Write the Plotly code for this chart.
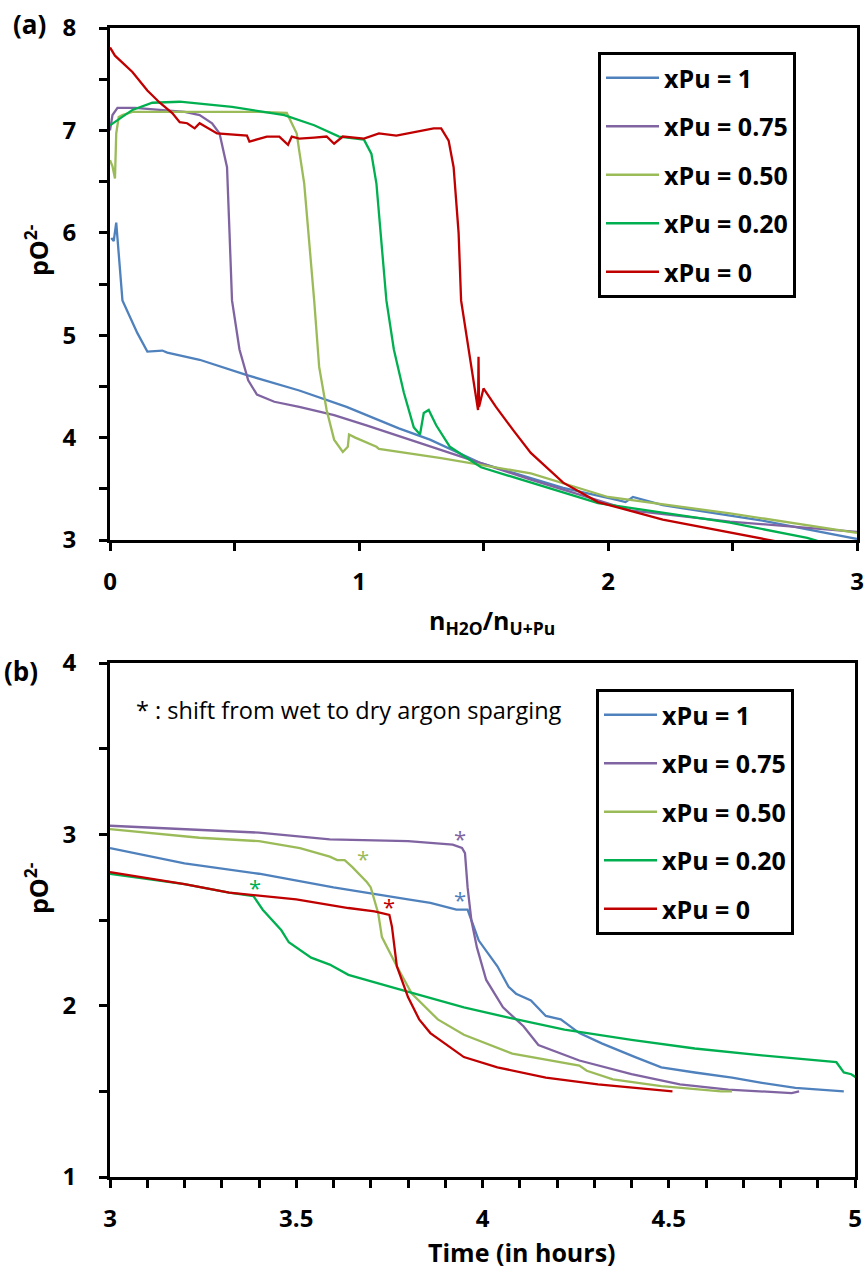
import plotly.graph_objects as go

W, H = 866, 1272

# ---------------- Panel (a) data ----------------
series_names = ["xPu = 1", "xPu = 0.75", "xPu = 0.50", "xPu = 0.20", "xPu = 0"]
series_colors = ["#4F81BD", "#8064A2", "#9BBB59", "#00B050", "#C00000"]

a_x_pu100 = [0.005, 0.015, 0.025, 0.035, 0.05, 0.11, 0.15, 0.21, 0.23, 0.36, 0.55, 0.76, 0.95, 1.16, 1.285,
             1.49, 1.82, 2.04, 2.07, 2.10, 2.22, 2.62, 3.0]
a_y_pu100 = [5.95, 5.92, 6.10, 5.80, 5.34, 5.02, 4.84, 4.85, 4.83, 4.76, 4.61, 4.46, 4.30, 4.09, 3.98,
             3.75, 3.51, 3.39, 3.37, 3.42, 3.34, 3.19, 3.01]

a_x_pu075 = [0.0, 0.01, 0.03, 0.10, 0.20, 0.30, 0.36, 0.41, 0.44, 0.47, 0.48, 0.49, 0.52, 0.555, 0.59,
             0.66, 0.76, 0.90, 1.03, 1.33, 1.69, 2.09, 2.49, 3.0]
a_y_pu075 = [7.00, 7.15, 7.22, 7.22, 7.20, 7.18, 7.15, 7.07, 6.97, 6.64, 6.00, 5.34, 4.86, 4.56, 4.42,
             4.35, 4.30, 4.22, 4.12, 3.88, 3.59, 3.29, 3.18, 3.08]

a_x_pu050 = [0.0, 0.01, 0.02, 0.025, 0.035, 0.05, 0.09, 0.20, 0.40, 0.60, 0.71, 0.75, 0.76, 0.78, 0.82,
             0.84, 0.87, 0.90, 0.935, 0.955, 0.96, 0.985, 1.07, 1.08, 1.33, 1.69, 2.0, 2.49, 3.0]
a_y_pu050 = [6.71, 6.65, 6.53, 6.97, 7.13, 7.15, 7.18, 7.18, 7.18, 7.18, 7.17, 6.97, 6.80, 6.48, 5.34,
             4.69, 4.27, 3.98, 3.86, 3.91, 4.03, 4.00, 3.91, 3.89, 3.80, 3.65, 3.42, 3.26, 3.07]

a_x_pu020 = [0.0, 0.05, 0.09, 0.17, 0.28, 0.49, 0.70, 0.82, 0.92, 1.02, 1.05, 1.07, 1.10, 1.11, 1.14,
             1.18, 1.22, 1.245, 1.26, 1.28, 1.31, 1.365, 1.49, 1.69, 1.96, 2.49, 2.8, 2.9]
a_y_pu020 = [7.05, 7.13, 7.20, 7.27, 7.28, 7.23, 7.15, 7.05, 6.94, 6.91, 6.77, 6.48, 5.67, 5.34, 4.86,
             4.44, 4.10, 4.03, 4.24, 4.27, 4.12, 3.91, 3.71, 3.56, 3.36, 3.17, 3.02, 2.95]

a_x_pu000 = [0.0, 0.02, 0.09, 0.15, 0.20, 0.25, 0.28, 0.31, 0.34, 0.36, 0.43, 0.50, 0.55, 0.56, 0.63,
             0.68, 0.715, 0.73, 0.76, 0.82, 0.87, 0.90, 0.935, 1.02, 1.08, 1.15, 1.22, 1.30, 1.33, 1.36,
             1.38, 1.40, 1.41, 1.45, 1.47, 1.478, 1.48, 1.482, 1.50, 1.55, 1.62, 1.69, 1.82, 1.96, 2.22,
             2.49, 2.69, 2.8]
a_y_pu000 = [7.81, 7.73, 7.57, 7.39, 7.27, 7.17, 7.08, 7.07, 7.02, 7.07, 6.97, 6.96, 6.95, 6.89, 6.94,
             6.94, 6.86, 6.94, 6.92, 6.93, 6.94, 6.87, 6.94, 6.92, 6.97, 6.95, 6.98, 7.02, 7.02, 6.90,
             6.64, 6.00, 5.34, 4.69, 4.40, 4.27, 4.79, 4.30, 4.48, 4.30, 4.07, 3.85, 3.56, 3.37, 3.20,
             3.07, 2.98, 2.93]

# ---------------- Panel (b) data ----------------
b_x_pu100 = [3.0, 3.2, 3.4, 3.6, 3.8, 3.86, 3.93, 3.96, 3.97, 3.99, 4.04, 4.07, 4.09, 4.13, 4.17, 4.21,
             4.26, 4.32, 4.41, 4.48, 4.57, 4.67, 4.75, 4.84, 4.97]
b_y_pu100 = [2.92, 2.83, 2.77, 2.69, 2.62, 2.60, 2.56, 2.56, 2.50, 2.38, 2.23, 2.11, 2.07, 2.03, 1.94,
             1.92, 1.84, 1.78, 1.70, 1.64, 1.61, 1.58, 1.55, 1.52, 1.50]

b_x_pu075 = [3.0, 3.2, 3.4, 3.59, 3.8, 3.92, 3.945, 3.953, 3.96, 3.97, 3.985, 4.01, 4.055, 4.11, 4.15,
             4.26, 4.40, 4.53, 4.66, 4.83, 4.85]
b_y_pu075 = [3.05, 3.03, 3.01, 2.97, 2.96, 2.94, 2.92, 2.89, 2.69, 2.50, 2.34, 2.15, 1.99, 1.88, 1.77,
             1.68, 1.60, 1.54, 1.51, 1.49, 1.50]

b_x_pu050 = [3.0, 3.24, 3.40, 3.51, 3.59, 3.61, 3.63, 3.65, 3.69, 3.70, 3.72, 3.73, 3.77, 3.81, 3.88,
             3.95, 4.08, 4.26, 4.28, 4.35, 4.48, 4.64, 4.67]
b_y_pu050 = [3.03, 2.98, 2.96, 2.92, 2.87, 2.85, 2.85, 2.81, 2.72, 2.69, 2.54, 2.40, 2.23, 2.07, 1.92,
             1.83, 1.72, 1.65, 1.62, 1.57, 1.53, 1.50, 1.50]

b_x_pu020 = [3.0, 3.2, 3.32, 3.385, 3.41, 3.46, 3.48, 3.54, 3.59, 3.64, 3.77, 3.95, 4.07, 4.22, 4.40,
             4.57, 4.75, 4.95, 4.97, 4.99, 5.01]
b_y_pu020 = [2.77, 2.71, 2.66, 2.64, 2.56, 2.44, 2.37, 2.28, 2.24, 2.18, 2.10, 1.99, 1.93, 1.86, 1.80,
             1.75, 1.71, 1.67, 1.61, 1.60, 1.57]

b_x_pu000 = [3.0, 3.2, 3.32, 3.5, 3.64, 3.71, 3.75, 3.757, 3.77, 3.80, 3.83, 3.86, 3.95, 4.04, 4.17,
             4.31, 4.51]
b_y_pu000 = [2.78, 2.71, 2.66, 2.62, 2.57, 2.55, 2.53, 2.46, 2.23, 2.05, 1.92, 1.84, 1.70, 1.64, 1.58,
             1.54, 1.50]

# asterisks marking the shift from wet to dry argon sparging (one per series)
star_x = [3.94, 3.94, 3.68, 3.39, 3.75]
star_y = [2.62, 2.98, 2.86, 2.69, 2.58]

a_x = [a_x_pu100, a_x_pu075, a_x_pu050, a_x_pu020, a_x_pu000]
a_y = [a_y_pu100, a_y_pu075, a_y_pu050, a_y_pu020, a_y_pu000]
b_x = [b_x_pu100, b_x_pu075, b_x_pu050, b_x_pu020, b_x_pu000]
b_y = [b_y_pu100, b_y_pu075, b_y_pu050, b_y_pu020, b_y_pu000]

FONT = "Open Sans"
fig = go.Figure()

for i, name in enumerate(series_names):
    fig.add_trace(go.Scatter(x=a_x[i], y=a_y[i], mode="lines", name=name,
                             line=dict(color=series_colors[i], width=2.3),
                             legendgroup="a%d" % i, legend="legend",
                             xaxis="x", yaxis="y"))
for i, name in enumerate(series_names):
    fig.add_trace(go.Scatter(x=b_x[i], y=b_y[i], mode="lines", name=name,
                             line=dict(color=series_colors[i], width=2.3),
                             legendgroup="b%d" % i, legend="legend2",
                             xaxis="x2", yaxis="y2"))

for sx, sy, col in zip(star_x, star_y, series_colors):
    fig.add_annotation(x=sx, y=sy, xref="x2", yref="y2", text="*", showarrow=False,
                       xanchor="center", yanchor="middle", yshift=0,
                       font=dict(family=FONT, size=22, color=col))


def px_x(p):
    return p / W


def px_y(p):
    return 1 - p / H


tickfont = dict(family=FONT, size=24, color="black", weight="bold")
common = dict(showline=True, linecolor="black", linewidth=3, mirror=True,
              ticks="outside", ticklen=8, tickwidth=2.5, tickcolor="black",
              showgrid=False, zeroline=False, tickfont=tickfont, automargin=False,
              ticklabeloverflow="allow")
minor_y = dict(ticks="outside", ticklen=8, tickwidth=2.5, tickcolor="black", dtick=0.5)

legend_common = dict(xanchor="left", yanchor="top",
                     bordercolor="black", borderwidth=3, bgcolor="white",
                     font=dict(family=FONT, size=25, color="black", weight="bold"),
                     tracegroupgap=13, itemwidth=53)

fig.update_layout(
    width=W, height=H, autosize=False,
    margin=dict(l=0, r=0, t=0, b=0),
    paper_bgcolor="white", plot_bgcolor="white",
    font=dict(family=FONT, color="black"),
    xaxis=dict(domain=[px_x(110), px_x(857)], range=[0, 3], tickvals=[0, 1, 2, 3],
               minor=dict(ticks="outside", ticklen=8, tickwidth=2.5, tickcolor="black", dtick=0.5),
               ticklabelstandoff=10, anchor="y", **common),
    yaxis=dict(domain=[px_y(540), px_y(28)], range=[3, 8], tickvals=[3, 4, 5, 6, 7, 8],
               minor=minor_y, ticklabelstandoff=18, anchor="x", **common),
    xaxis2=dict(domain=[px_x(110), px_x(855)], range=[3, 5], tickvals=[3, 3.5, 4, 4.5, 5],
                ticktext=["3", "3.5", "4", "4.5", "5"],
                minor=dict(ticks="outside", ticklen=8, tickwidth=2.5, tickcolor="black", dtick=0.1),
                ticklabelstandoff=10, anchor="y2", **common),
    yaxis2=dict(domain=[px_y(1177), px_y(663)], range=[1, 4], tickvals=[1, 2, 3, 4],
                minor=minor_y, ticklabelstandoff=18, anchor="x2", **common),
    legend=dict(x=px_x(598), y=px_y(52), **legend_common),
    legend2=dict(x=px_x(596), y=px_y(689), **legend_common),
    showlegend=True,
)

ann = [
    dict(text="<b>(a)</b>", x=px_x(29), y=px_y(24), size=26),
    dict(text="<b>(b)</b>", x=px_x(21), y=px_y(671), size=26),
    dict(text="<b>pO<sup>2-</sup></b>", x=px_x(36), y=px_y(250), size=25, angle=-90),
    dict(text="<b>pO<sup>2-</sup></b>", x=px_x(36), y=px_y(888), size=25, angle=-90),
    dict(text="<b>n<sub>H2O</sub>/n<sub>U+Pu</sub></b>", x=px_x(492), y=px_y(622), size=25),
    dict(text="<b>Time (in hours)</b>", x=px_x(522), y=px_y(1252), size=25),
    dict(text="* : shift from wet to dry argon sparging", x=px_x(349), y=px_y(710), size=23.5),
]
for a in ann:
    fig.add_annotation(text=a["text"], x=a["x"], y=a["y"], xref="paper", yref="paper",
                       xanchor="center", yanchor="middle", showarrow=False,
                       textangle=a.get("angle", 0),
                       font=dict(family=FONT, size=a["size"], color="black"))

fig.write_html("out.html", config={"displayModeBar": False},
               post_script="document.body.style.margin='0px';")
